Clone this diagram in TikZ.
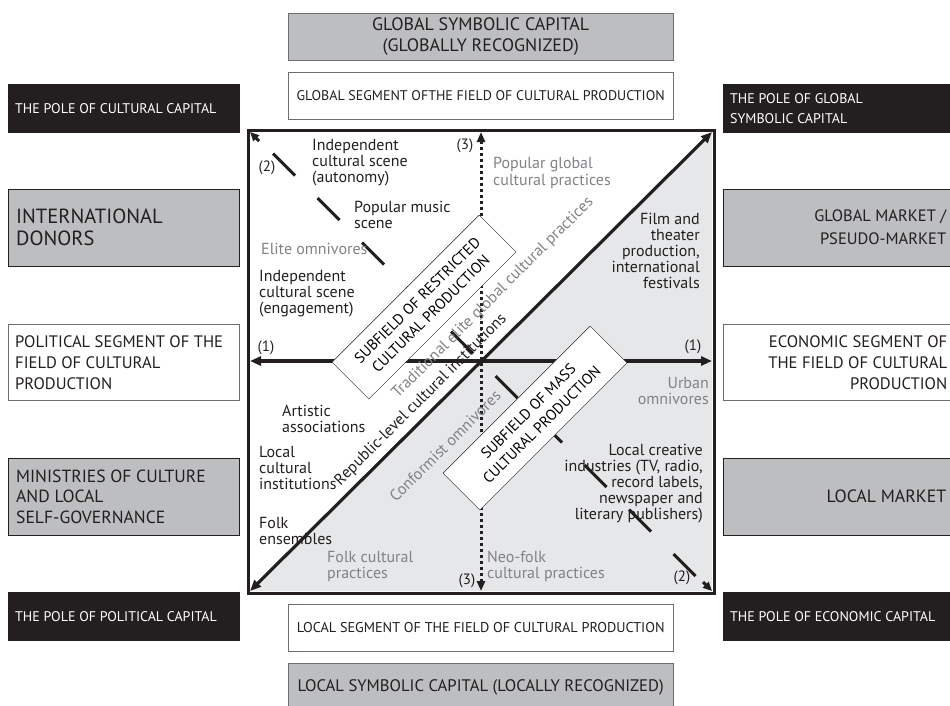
\documentclass[tikz,border=0pt]{standalone}
\usepackage{fontspec}
\setmainfont{PT Sans}
\usetikzlibrary{arrows.meta,calc}

\definecolor{ink}{HTML}{231F20}
\definecolor{boxgrey}{HTML}{BCBEC0}
\definecolor{fieldgrey}{HTML}{E6E7E8}
\definecolor{txtgrey}{HTML}{808285}
\definecolor{rimgrey}{HTML}{6D6E71}

\begin{document}
\begin{tikzpicture}[x=1pt, y=-1pt,
    pole/.style={draw=ink, fill=ink, text=white, anchor=north west, minimum width=231pt, minimum height=48pt,
      text width=217pt, inner xsep=7pt, align=flush left, font=\fontsize{14}{20}\selectfont},
    market/.style={draw=ink, fill=boxgrey, text=ink, anchor=north west, minimum width=231pt, minimum height=77pt,
      text width=215pt, inner xsep=8pt, align=flush left, font=\fontsize{20.5}{22}\selectfont},
    segment/.style={draw=rimgrey, fill=white, text=ink, anchor=north west, minimum width=231pt, minimum height=76pt,
      text width=217pt, inner xsep=7pt, align=flush left, font=\fontsize{16.6}{21}\selectfont},
    capbox/.style={draw=rimgrey, fill=boxgrey, text=ink, anchor=north west, minimum width=385pt, minimum height=47pt,
      align=center, font=\fontsize{18}{21}\selectfont},
    segbox/.style={draw=rimgrey, fill=white, text=ink, anchor=north west, minimum width=385pt, minimum height=47pt,
      align=center, font=\fontsize{14}{18}\selectfont},
    subfield/.style={draw=ink, fill=white, rotate=45, minimum width=208pt, minimum height=52pt,
      inner sep=0pt, align=center, font=\fontsize{15}{19}\selectfont},
    lab/.style={text=ink, inner sep=0pt, align=left, font=\fontsize{16}{16}\selectfont},
    glab/.style={lab, text=txtgrey},
    num/.style={text=ink, inner sep=0pt, font=\fontsize{15}{16}\selectfont},
    frame/.style={ink, line width=3pt},
    axis/.style={ink, line width=3.2pt, {Triangle[length=11pt,width=9pt]}-{Triangle[length=11pt,width=9pt]}},
    dotaxis/.style={ink, line width=3pt, dash pattern=on 3pt off 3pt,
      {Triangle[length=10pt,width=8pt]}-{Triangle[length=10pt,width=8pt]}},
    antidash/.style={ink, line width=3pt}
  ]
  \useasboundingbox (0,0) rectangle (950,705);

  % Ecken und Achsenenden
  \coordinate (tl) at (250,132);
  \coordinate (tr) at (712,132);
  \coordinate (bl) at (250,591);
  \coordinate (br) at (712,591);
  \coordinate (l) at (250,361);
  \coordinate (r) at (712,361);
  \coordinate (t) at (481,132);
  \coordinate (b) at (481,591);

  % Feld
  \fill[fieldgrey] (bl) -- (br) -- (tr) -- cycle;
  \draw[frame] (248,130) rectangle (714,593);

  % Achse (2)
  \foreach \x in {273,317.5,...,680}
    \draw[antidash] ({\x},{\x-119.5}) -- ({\x+22},{\x-97.5});
  \draw[antidash, -{Triangle[length=9pt,width=8pt]}] ($(tl)+(9,9)$) -- (tl);
  \draw[antidash, -{Triangle[length=9pt,width=8pt]}] ($(br)+(-9,-9)$) -- (br);

  % Achsen (1) und (3), Diagonale
  \draw[axis] (bl) -- (tr);
  \draw[axis] (l) -- (r);
  \draw[dotaxis] (b) -- (t);

  % Teilfelder
  \node[subfield] (restricted) at (424,307) {SUBFIELD OF RESTRICTED\\CULTURAL PRODUCTION};
  \node[subfield] (mass) at (535,418) {SUBFIELD OF MASS\\CULTURAL PRODUCTION};

  % Diagonale Beschriftungen
  \node[lab, rotate=45] (republic) at (421,400) {Republic-level cultural institutions};
  \node[glab, rotate=45] (elite) at (493,298) {Traditional elite global cultural practices};
  \node[glab, rotate=45] (conformist) at (445,446) {Conformist omnivores};

  % Akteure und Praktiken
  \node[lab, anchor=west] (autonomy) at (312,163) {Independent\\cultural scene\\(autonomy)};
  \node[lab, anchor=west] (popmusic) at (354,215) {Popular music\\scene};
  \node[glab, anchor=west] (eliteomni) at (261,249) {Elite omnivores};
  \node[lab, anchor=west] (engagement) at (259,294) {Independent\\cultural scene\\(engagement)};
  \node[lab, anchor=west] (artistic) at (282,419) {Artistic\\associations};
  \node[lab, anchor=west] (localinst) at (259,468) {Local\\cultural\\institutions};
  \node[lab, anchor=west] (folkens) at (259,531) {Folk\\ensembles};
  \node[glab, anchor=west] (folkprac) at (327,566) {Folk cultural\\practices};
  \node[glab, anchor=west] (neofolk) at (487,566) {Neo-folk\\cultural practices};
  \node[glab, anchor=west, font=\fontsize{16}{17.5}\selectfont] (popglobal) at (493,173) {Popular global\\cultural practices};
  \node[lab, anchor=east, align=right] (film) at (700,251) {Film and\\theater\\production,\\international\\festivals};
  \node[glab, anchor=east, align=right] (urban) at (709,391) {Urban\\omnivores};
  \node[lab, anchor=east, align=right] (creative) at (703,484) {Local creative\\industries (TV, radio,\\record labels,\\newspaper and\\literary publishers)};

  % Achsennummern
  \node[num] (n2a) at (267,168) {(2)};
  \node[num] (n2b) at (682,578) {(2)};
  \node[num] (n1a) at (266,348) {(1)};
  \node[num] (n1b) at (693,347) {(1)};
  \node[num] (n3a) at (465,146) {(3)};
  \node[num] (n3b) at (467,581) {(3)};

  % Oben und unten
  \node[capbox] (globalcap) at (288,13) {GLOBAL SYMBOLIC CAPITAL\\(GLOBALLY RECOGNIZED)};
  \node[segbox] (globalseg) at (288,72) {GLOBAL SEGMENT OFTHE FIELD OF CULTURAL PRODUCTION};
  \node[segbox, font=\fontsize{14.2}{18}\selectfont] (localseg) at (288,604) {LOCAL SEGMENT OF THE FIELD OF CULTURAL PRODUCTION};
  \node[capbox, font=\fontsize{16.7}{20}\selectfont, minimum height=48pt] (localcap) at (288,663) {LOCAL SYMBOLIC CAPITAL (LOCALLY RECOGNIZED)};

  % Links
  \node[pole] (polecult) at (8,84) {THE POLE OF CULTURAL CAPITAL};
  \node[market] (donors) at (8,189) {INTERNATIONAL\\DONORS};
  \node[segment] (polseg) at (8,324) {POLITICAL SEGMENT OF THE\\FIELD OF CULTURAL\\PRODUCTION};
  \node[market, font=\fontsize{17.6}{20.5}\selectfont] (ministries) at (8,458) {MINISTRIES OF CULTURE\\AND LOCAL\\SELF-GOVERNANCE};
  \node[pole] (polepol) at (8,592) {THE POLE OF POLITICAL CAPITAL};

  % Rechts
  \node[pole] (poleglob) at (723,84) {THE POLE OF GLOBAL\\SYMBOLIC CAPITAL};
  \node[market, align=flush right, font=\fontsize{16.5}{23}\selectfont] (globmarket) at (723,189) {GLOBAL MARKET /\\PSEUDO-MARKET};
  \node[segment, align=flush right] (ecoseg) at (723,324) {ECONOMIC SEGMENT OF\\THE FIELD OF CULTURAL\\PRODUCTION};
  \node[market, align=flush right, font=\fontsize{17.8}{21}\selectfont] (localmarket) at (723,458) {LOCAL MARKET};
  \node[pole] (poleeco) at (723,592) {THE POLE OF ECONOMIC CAPITAL};
\end{tikzpicture}
\end{document}
